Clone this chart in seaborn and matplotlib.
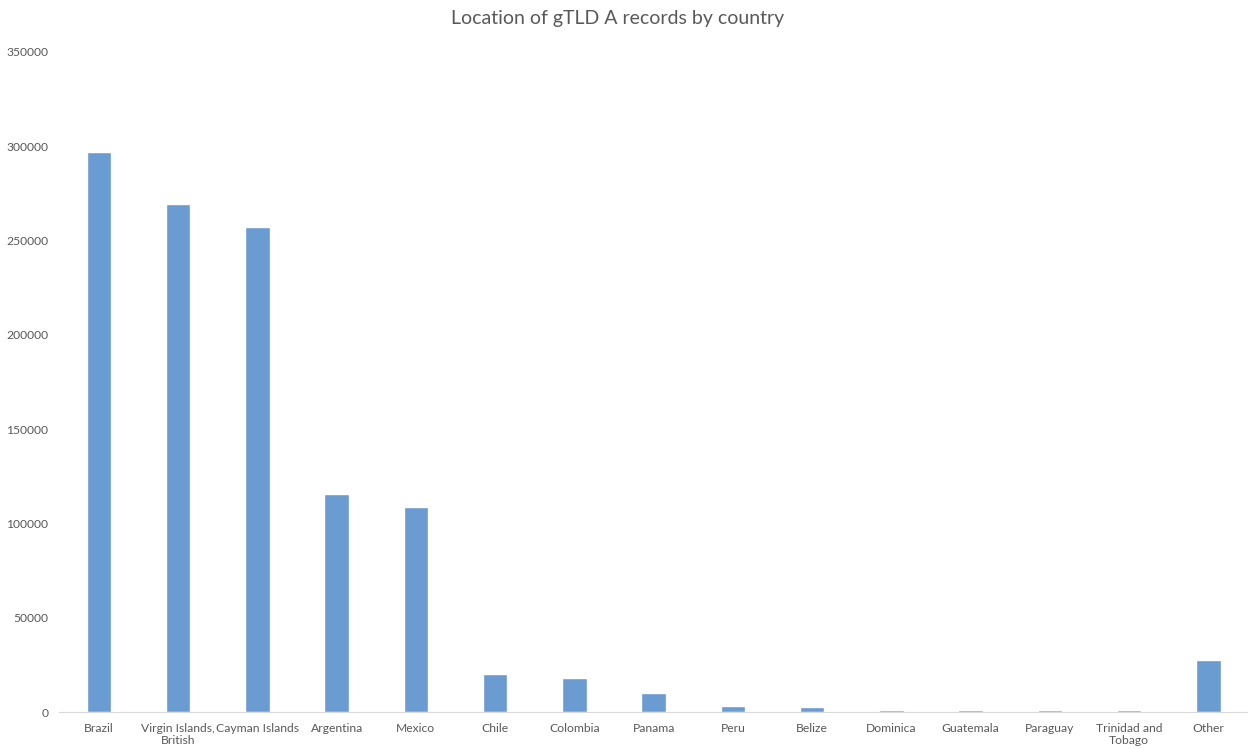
import matplotlib.pyplot as plt
import seaborn as sns

countries = ['Brazil', 'Virgin Islands,\nBritish', 'Cayman Islands', 'Argentina', 'Mexico',
             'Chile', 'Colombia', 'Panama', 'Peru', 'Belize', 'Dominica', 'Guatemala',
             'Paraguay', 'Trinidad and\nTobago', 'Other']
records = [297000, 269500, 257300, 115400, 109000, 20100, 18000, 10000, 3300, 2600,
           1200, 1200, 1200, 1200, 27900]

sns.set_style('white')
plt.rcParams['font.family'] = ['Lato', 'DejaVu Sans']

fig = plt.figure(figsize=(12.48, 7.49), dpi=100)
ax = fig.add_axes([0.0475, 0.049, 0.9525, 0.882])
sns.barplot(x=countries, y=records, color='#6a9bd1', width=0.31, saturation=1, ax=ax)

ax.set_ylim(0, 350000)
ax.set_yticks(range(0, 350001, 50000))
ax.set_xlim(-0.5, len(countries) - 0.5)
for s in ['top', 'right', 'left']:
    ax.spines[s].set_visible(False)
ax.spines['bottom'].set_color('#d9d9d9')
ax.tick_params(axis='both', length=0, labelsize=8.7, colors='#595959')
ax.tick_params(axis='x', pad=8)
ax.tick_params(axis='y', pad=8)
for lbl in ax.get_xticklabels():
    lbl.set_linespacing(1.1)
fig.text(0.495, 0.975, 'Location of gTLD A records by country', fontsize=14,
         color='#595959', ha='center', va='center')

plt.savefig('out.png')
